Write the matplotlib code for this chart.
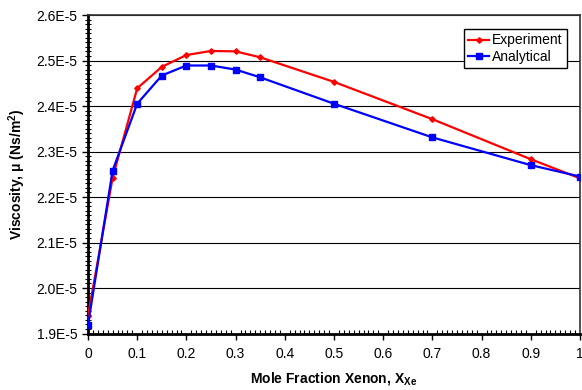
import numpy as np
import matplotlib
matplotlib.use('Agg')
import matplotlib.pyplot as plt
from matplotlib.ticker import MultipleLocator, FuncFormatter

plt.rcParams['font.family'] = ['Liberation Sans', 'DejaVu Sans']
plt.rcParams['mathtext.fontset'] = 'custom'
plt.rcParams['mathtext.rm'] = 'Liberation Sans'
plt.rcParams['mathtext.bf'] = 'Liberation Sans:bold'

# mole fraction of xenon
x_xe = [0, 0.05, 0.1, 0.15, 0.2, 0.25, 0.3, 0.35, 0.5, 0.7, 0.9, 1.0]
# viscosity values (Ns/m^2)
experiment = [1.939e-5, 2.242e-5, 2.439e-5, 2.486e-5, 2.512e-5, 2.521e-5,
              2.520e-5, 2.507e-5, 2.453e-5, 2.371e-5, 2.283e-5, 2.241e-5]
analytical = [1.919e-5, 2.258e-5, 2.405e-5, 2.467e-5, 2.489e-5, 2.489e-5,
              2.480e-5, 2.463e-5, 2.405e-5, 2.331e-5, 2.270e-5, 2.245e-5]

fig = plt.figure(figsize=(5.82, 3.90), dpi=100)
ax = fig.add_axes([88/582, 1 - 333.5/390, 492/582, 318.5/390])

ax.plot(x_xe, experiment, color='#ff0000', lw=1.6, marker='D', ms=2.8,
        label='Experiment', zorder=3)
ax.plot(x_xe, analytical, color='#0000ff', lw=1.6, marker='s', ms=4.2,
        label='Analytical', zorder=3)

ax.set_xlim(0, 1)
ax.set_ylim(1.9e-5, 2.6e-5)
ax.xaxis.set_major_locator(MultipleLocator(0.1))
ax.xaxis.set_minor_locator(MultipleLocator(0.01))
ax.yaxis.set_major_locator(MultipleLocator(0.1e-5))
ax.yaxis.set_minor_locator(MultipleLocator(0.01e-5))
ax.xaxis.set_major_formatter(FuncFormatter(lambda v, p: '0' if abs(v) < 1e-9 else ('1' if abs(v - 1) < 1e-9 else f'{v:.1f}')))
ax.yaxis.set_major_formatter(FuncFormatter(lambda v, p: f'{v*1e5:.1f}E-5'))

ax.tick_params(axis='both', which='major', direction='out', length=4, width=1, labelsize=10, colors='black')
ax.tick_params(axis='x', which='minor', direction='in', length=3, width=0.8)
ax.tick_params(axis='y', which='minor', direction='inout', length=4, width=0.8)
ax.tick_params(axis='x', which='major', pad=6)

ax.grid(axis='y', which='major', color='black', lw=0.8)
ax.set_axisbelow(True)

for side in ['left', 'bottom']:
    ax.spines[side].set_linewidth(2)
for side in ['top', 'right']:
    ax.spines[side].set_linewidth(1.2)
    ax.spines[side].set_color('#333333')

ax.set_xlabel('Mole Fraction Xenon, X$_{\\mathbf{Xe}}$', fontsize=10, fontweight='bold', labelpad=6)
ax.set_ylabel('Viscosity, \u03bc (Ns/m$^{\\mathbf{2}}$)', fontsize=10, fontweight='bold', labelpad=6)

leg = ax.legend(loc='upper right', bbox_to_anchor=(0.973, 0.955), fontsize=10,
                frameon=True, fancybox=False, edgecolor='black', framealpha=1,
                handlelength=1.5, handletextpad=0.2, borderpad=0.3, labelspacing=0.2,
                borderaxespad=0)
leg.get_frame().set_linewidth(1)

fig.savefig('out.png', dpi=100)
